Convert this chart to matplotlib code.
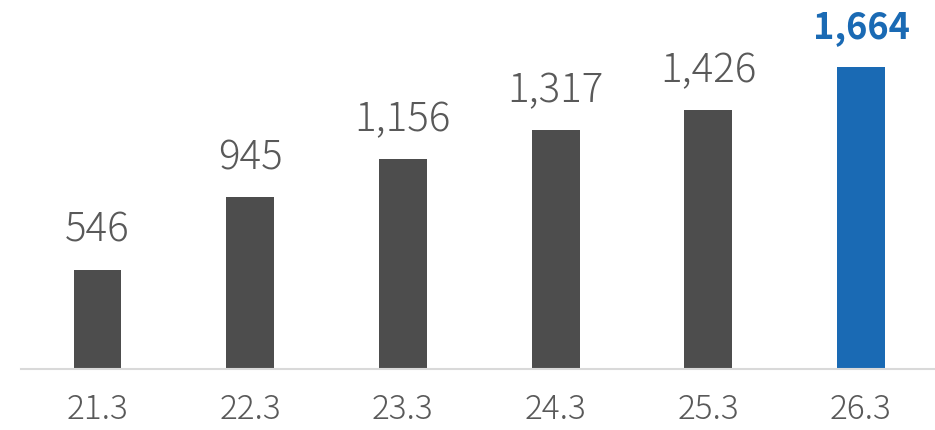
import matplotlib
matplotlib.use("Agg")
import matplotlib.pyplot as plt

categories = ["21.3", "22.3", "23.3", "24.3", "25.3", "26.3"]
values = [546, 945, 1156, 1317, 1426, 1664]
highlight = [False, False, False, False, False, True]

plt.rcParams['font.family'] = ['Noto Sans CJK JP', 'DejaVu Sans']

fig = plt.figure(figsize=(9.35, 4.3), dpi=100)
ax = fig.add_axes([21/935, (430-369)/430, 914/935, 369/430])

grey = "#4d4d4d"
blue = "#1a6ab4"
x = list(range(len(values)))
colors = [blue if h else grey for h in highlight]
ax.bar(x, values, width=0.314, color=colors)

for xi, v, h in zip(x, values, highlight):
    ax.annotate(f"{v:,}", (xi, v), xytext=(0, 21 if h else 18), textcoords="offset pixels",
                ha="center", va="bottom", fontsize=26 if h else 29,
                color=blue if h else "#595959",
                fontweight="bold" if h else 300)

ax.set_xlim(-0.501, 5.485)
ax.set_ylim(0, 2033)
ax.set_xticks(x)
ax.set_xticklabels(categories, fontsize=24, color="#595959", fontweight=300)
ax.tick_params(axis="x", length=0, pad=17)
ax.set_yticks([])
for s in ["top", "right", "left"]:
    ax.spines[s].set_visible(False)
ax.spines["bottom"].set_color("#d9d9d9")
ax.spines["bottom"].set_linewidth(1.5)

fig.savefig("out.png", dpi=100)
